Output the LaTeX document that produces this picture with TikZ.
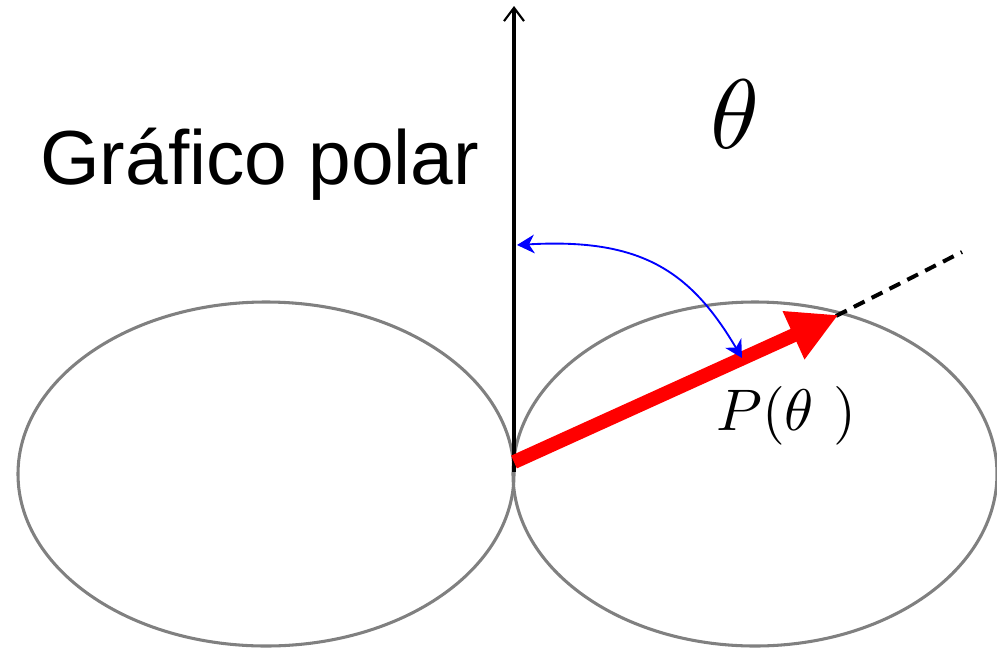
\documentclass[tikz,border=0pt]{standalone}
\usepackage{graphicx}
\usepackage{fontspec}
\newfontfamily\arialfont{Liberation Sans}
\usetikzlibrary{arrows.meta,shapes.geometric}
\begin{document}
\begin{tikzpicture}[x=0.75pt,y=-0.75pt,
  lobe/.style={draw=gray, line width=2.3pt, ellipse, inner sep=0, minimum height=258pt},
  axis/.style={line width=3pt, -{Straight Barb[length=10pt,width=15pt,line width=1.6pt]}},
  radius/.style={red, line width=10.5pt, -{Triangle[length=37pt,width=37pt]}, shorten >=-2pt},
  ext/.style={line width=3pt, dash pattern=on 9pt off 6pt},
  anglearc/.style={blue, line width=1.4pt, {Stealth[length=13pt,width=14pt,inset=4pt]}-{Stealth[length=13pt,width=14pt,inset=4pt]}}]
\useasboundingbox (0,0) rectangle (997,651);
\node[lobe, minimum width=372pt] (L) at (266,474) {};
\node[lobe, minimum width=363pt] (Rt) at (755,474) {};
\coordinate (top) at (514,6);
\draw[axis] (514,472) -- (top);
\coordinate (R0) at (514,462);
\coordinate (R1) at (836,316);
\coordinate (R2) at (962,252);
\draw[ext] (R1) -- (R2);
\draw[radius] (R0) -- (R1);
\coordinate (A0) at (517,245);
\coordinate (A1) at (742,358);
\draw[anglearc] (A0) .. controls (640,238) and (690,270) .. (A1);
\node[anchor=base west, inner sep=0, font=\arialfont\fontsize{57.5}{62}\selectfont] (title) at (40,184) {Gráfico polar};
\node[anchor=base, inner sep=0] (theta) at (735,148) {\scalebox{7.4}{$\theta$}};
\node[anchor=base west, inner sep=0] (P) at (716,430) {\scalebox{4.4}{$P(\theta\ )$}};
\end{tikzpicture}
\end{document}
